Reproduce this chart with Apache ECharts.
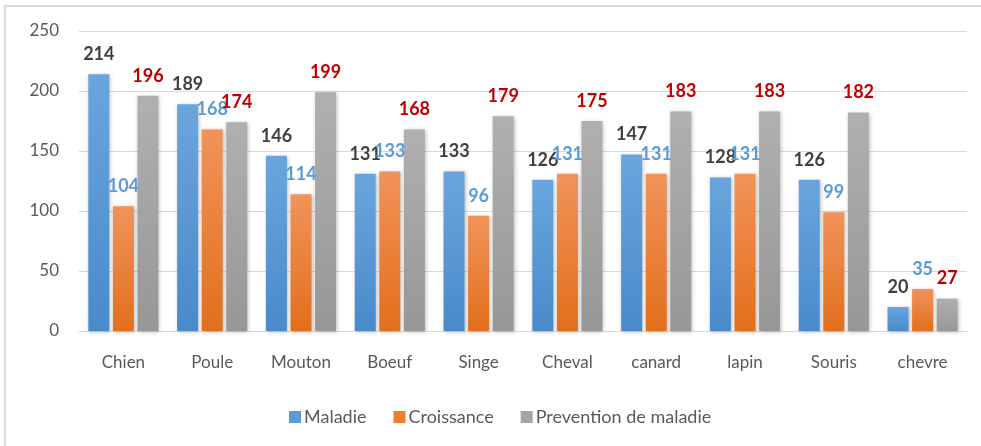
<!DOCTYPE html>
<html><head><meta charset="utf-8">
<script src="https://cdn.jsdelivr.net/npm/echarts@6/dist/echarts.min.js"></script>
<style>html,body{margin:0;padding:0;background:#fff}#c{width:981px;height:446px}</style>
</head><body><div id="c"></div>
<script>
var categories = ['Chien','Poule','Mouton','Boeuf','Singe','Cheval','canard','lapin','Souris','chevre'];
var maladie = [214,189,146,131,133,126,147,128,126,20];
var croissance = [104,168,114,133,96,131,131,131,99,35];
var prevention = [196,174,199,168,179,175,183,183,182,27];
var seriesNames = ['Maladie','Croissance','Prevention de maladie'];
var yTicks = {min:0, max:250, interval:50};

var FONT = 'Lato, "Liberation Sans", sans-serif';
function grad(top, bottom){
  return new echarts.graphic.LinearGradient(0,0,0,1,[{offset:0,color:top},{offset:1,color:bottom}]);
}
function mk(name, data, c1, c2, labelColor){
  return {
    name: name, type:'bar', data:data, barWidth:21, barGap:'17%',
    itemStyle:{color:grad(c1,c2), shadowColor:'rgba(0,0,0,0.25)', shadowBlur:4, shadowOffsetX:1, shadowOffsetY:1},
    label:{show:true, position:'top', distance:11, color:labelColor, fontSize:18, fontWeight:'bold', fontFamily:FONT},
    emphasis:{disabled:true}
  };
}
var chart = echarts.init(document.getElementById('c'));
chart.setOption({
  animation:false,
  textStyle:{fontFamily:FONT},
  graphic:[{type:'rect', shape:{x:5,y:6,width:1000,height:500}, style:{fill:'none', stroke:'#d9d9d9', lineWidth:2}, z:-1}],
  grid:{left:79, right:14, top:31, bottom:115},
  legend:{
    data:[
      {name:seriesNames[0], itemStyle:{color:'#5b9bd5'}},
      {name:seriesNames[1], itemStyle:{color:'#ed7d31'}},
      {name:seriesNames[2], itemStyle:{color:'#a5a5a5'}}
    ],
    bottom:15, left:284, icon:'rect', itemWidth:12, itemHeight:12, itemGap:27,
    textStyle:{color:'#595959', fontSize:18, fontFamily:FONT, padding:[0,0,0,-2]}
  },
  xAxis:{
    type:'category', data:categories,
    axisLine:{lineStyle:{color:'#d9d9d9', width:1}}, axisTick:{show:false},
    axisLabel:{color:'#595959', fontSize:17, margin:23, fontFamily:FONT}
  },
  yAxis:{
    type:'value', min:yTicks.min, max:yTicks.max, interval:yTicks.interval,
    axisLine:{show:false}, axisTick:{show:false},
    splitLine:{lineStyle:{color:'#d9d9d9', width:1}},
    axisLabel:{color:'#595959', fontSize:17, margin:20, fontFamily:FONT}
  },
  series:[
    mk(seriesNames[0], maladie, '#6aa5dd', '#4a8acb', '#404040'),
    mk(seriesNames[1], croissance, '#f1935a', '#e26f1c', '#5b9bd5'),
    mk(seriesNames[2], prevention, '#b0b0b0', '#979797', '#c00000')
  ]
});
</script></body></html>
